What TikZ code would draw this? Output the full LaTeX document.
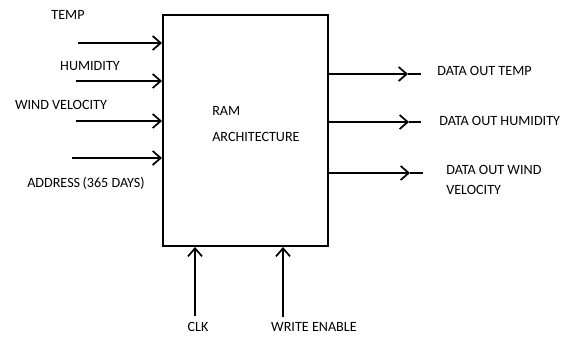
\documentclass[tikz,border=0pt]{standalone}
\usepackage{fontspec}
\setmainfont{Carlito}
\usetikzlibrary{arrows.meta, positioning}

\begin{document}
\begin{tikzpicture}[x=0.75pt, y=-0.75pt,
    wire/.style={line width=1.5pt},
    sig/.style={wire, -{Straight Barb[length=6pt, width=10.5pt, line width=1.3pt]}},
    lbl/.style={font=\fontsize{10.6}{12}\selectfont, inner sep=0pt}]

% Fix the page size
\useasboundingbox (0,0) rectangle (569,337);

% The RAM block
\node[draw, line width=1.5pt, minimum width=165*0.75pt, minimum height=231*0.75pt] (ram) at (245.5,130.5) {};
\node[lbl, align=left, anchor=west] (ramtext) at (212,124) {RAM\\[7pt]ARCHITECTURE};

% Input wires (start points)
\coordinate (intemp) at (78,43);
\coordinate (inhum) at (76,81);
\coordinate (inwind) at (76,121);
\coordinate (inaddr) at (72,158);

\draw[sig] (intemp) -- (intemp -| ram.west);
\draw[sig] (inhum) -- (inhum -| ram.west);
\draw[sig] (inwind) -- (inwind -| ram.west);
\draw[sig] (inaddr) -- (inaddr -| ram.west);

% Input labels
\node[lbl] (ltemp) at (68,15) {TEMP};
\node[lbl] (lhum) at (90,66) {HUMIDITY};
\node[lbl] (lwind) at (61,105) {WIND VELOCITY};
\node[lbl] (laddr) at (86,183) {ADDRESS\,(365 DAYS)};

% Output wires, arrow tip half way
\coordinate (tiptemp) at (408,74);
\coordinate (tiphum) at (409,122);
\coordinate (tipwind) at (410,173);
\coordinate (endtemp) at (421,74);
\coordinate (endhum) at (421,122);
\coordinate (endwind) at (423,173);

\draw[sig] (tiptemp -| ram.east) -- (tiptemp);
\draw[wire] (tiptemp) -- (endtemp);
\draw[sig] (tiphum -| ram.east) -- (tiphum);
\draw[wire] (tiphum) -- (endhum);
\draw[sig] (tipwind -| ram.east) -- (tipwind);
\draw[wire] (tipwind) -- (endwind);

% Output labels
\node[lbl, anchor=west] (otemp) at (437,71) {DATA OUT TEMP};
\node[lbl, anchor=west] (ohum) at (439,121) {DATA OUT HUMIDITY};
\node[lbl, anchor=west, align=left] (owind) at (446,180) {DATA OUT WIND\\[3pt]VELOCITY};

% Control inputs from below
\coordinate (clk) at (195,316);
\coordinate (we) at (283,317);
\draw[sig] (clk) -- (clk |- ram.south);
\draw[sig] (we) -- (we |- ram.south);

\node[lbl] (lclk) at (198,327) {CLK};
\node[lbl] (lwe) at (314,327) {WRITE ENABLE};

\end{tikzpicture}
\end{document}
